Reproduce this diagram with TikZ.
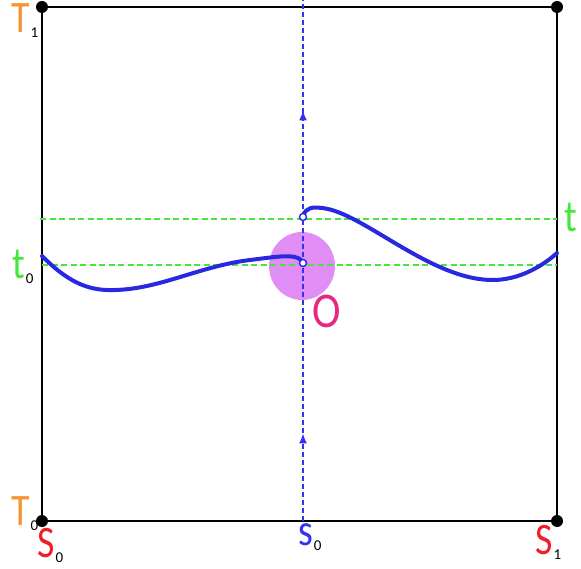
\documentclass[tikz,border=0pt]{standalone}
\usepackage{fontspec}
\setmainfont{Carlito}
\usetikzlibrary{decorations.markings,arrows.meta}
\definecolor{orT}{RGB}{247,148,52}
\definecolor{redS}{RGB}{240,30,40}
\definecolor{bluS}{RGB}{50,50,240}
\definecolor{grnT}{RGB}{70,230,60}
\definecolor{curveblue}{RGB}{40,40,225}
\definecolor{pinkO}{RGB}{230,40,130}
\definecolor{discviolet}{RGB}{224,142,245}
\newcommand{\biglet}[2]{\scalebox{0.84}[1]{\color{#1}\fontsize{45}{45}\selectfont #2}}
\newcommand{\mylbl}[3]{\biglet{#1}{#2}\kern1pt\lower5pt\hbox{\fontsize{15}{15}\selectfont #3}}
\tikzset{
  corner/.style={circle,fill=black,inner sep=0pt,minimum size=12pt},
  opendot/.style={circle,draw=curveblue,fill=white,line width=1.4pt,inner sep=0pt,minimum size=7pt},
  lbl/.style={inner sep=0pt,anchor=base west,text height=29pt,text depth=4pt},
  gline/.style={draw=grnT,dash pattern=on 6pt off 3.5pt,line width=1.6pt},
  vline/.style={draw=bluS,dash pattern=on 5pt off 3pt,line width=1.5pt},
  curve/.style={draw=curveblue,line width=4pt,line cap=round}
}
\begin{document}
\begin{tikzpicture}[x=1pt,y=-1pt]
\useasboundingbox (0,0) rectangle (581,569);
% pink disc
\fill[discviolet] (302,266) ellipse [x radius=33, y radius=34];
% square
\draw[line width=2pt] (42,7) rectangle (557,521);
\node[corner] (c11) at (42,7) {};
\node[corner] (c21) at (557,7) {};
\node[corner] (c00) at (42,521) {};
\node[corner] (c10) at (557,521) {};
% green lines
\coordinate (gtl) at (40,219);
\coordinate (gtr) at (557,219);
\coordinate (gbl) at (42,265);
\coordinate (gbr) at (557,265);
\draw[gline] (gtl) -- (gtr);
\draw[gline] (gbl) -- (gbr);
% vertical line
\coordinate (vb) at (303,521);
\coordinate (vt) at (303,0);
\draw[vline, postaction={decorate}, decoration={markings,
  mark=at position 0.168 with {\arrow[bluS]{Latex[length=10pt,width=8pt]}},
  mark=at position 0.788 with {\arrow[bluS]{Latex[length=10pt,width=8pt]}}}] (vb) -- (vt);
% curves
\draw[curve] (42,256) .. controls (70,284) and (90,291) .. (115,290)
  .. controls (160,289) and (200,266) .. (250,260)
  .. controls (275,257) and (296,253) .. (302,261);
\draw[curve] (303,216) .. controls (306,207) and (313,207) .. (322,208)
  .. controls (362,212) and (428,278) .. (490,280)
  .. controls (520,281) and (545,264) .. (557,253);
\node[opendot] (p0) at (303,263) {};
\node[opendot] (p1) at (303,217) {};
% labels
\node[lbl] (T1) at (11,33) {\mylbl{orT}{T}{1}};
\node[lbl] (T0) at (11,525) {\mylbl{orT}{T}{0}};
\node[lbl] (S0) at (37,557) {\mylbl{redS}{S}{0}};
\node[lbl] (s0) at (298,545) {\mylbl{bluS}{s}{0}};
\node[lbl] (S1) at (535,554) {\mylbl{redS}{S}{1}};
\node[lbl] (t) at (564,232) {\biglet{grnT}{t}};
\node[lbl] (t0) at (12,279) {\mylbl{grnT}{t}{0}};
\node[lbl,text height=33pt] (O) at (312,327) {\scalebox{0.86}[1]{\color{pinkO}\fontsize{50}{50}\selectfont O}};
\end{tikzpicture}
\end{document}
